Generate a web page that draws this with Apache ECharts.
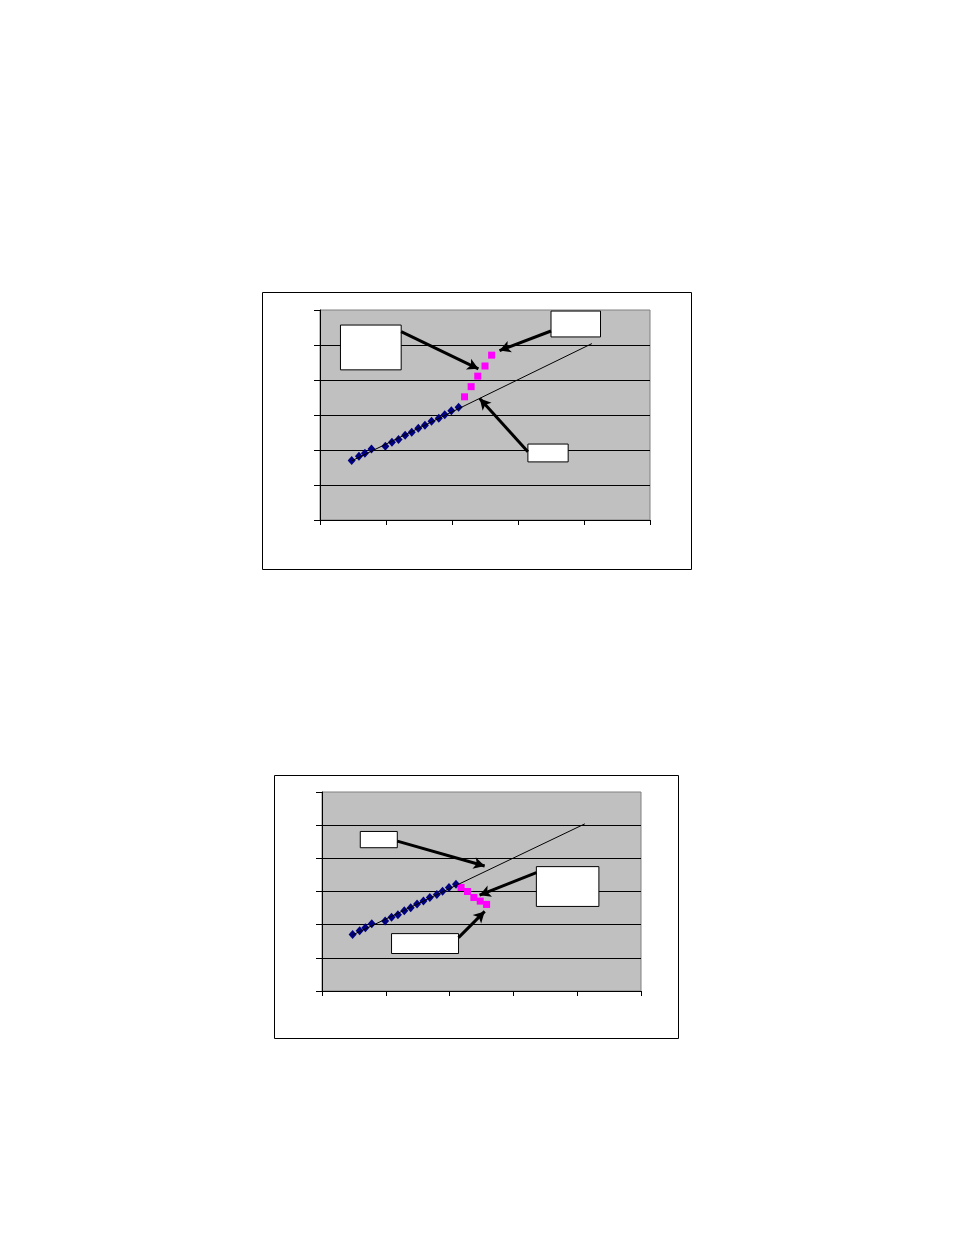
<!DOCTYPE html>
<html>
<head>
<meta charset="utf-8">
<style>
  html, body { margin: 0; padding: 0; background: #fff; }
  #chart { width: 954px; height: 1235px; }
</style>
<script src="https://cdn.jsdelivr.net/npm/echarts@6/dist/echarts.min.js"></script>
</head>
<body>
<div id="chart"></div>
<script>
// Measured points (same run of blue points in both panels)
const blueX = [4.8, 5.9, 6.8, 7.8, 9.9, 10.9, 11.9, 12.9, 13.9, 14.9, 15.9, 16.9, 18.0, 18.9, 19.9, 21.0];
const blueY = [17.0, 18.2, 19.1, 20.3, 21.1, 22.2, 23.0, 24.2, 25.1, 26.2, 27.1, 28.2, 29.1, 30.1, 31.2, 32.2];

// Top panel: pink points bend upward
const pinkUpX = [21.9, 22.9, 23.9, 25.0, 26.0];
const pinkUpY = [35.2, 38.1, 41.1, 44.0, 47.1];

// Bottom panel: pink points bend downward
const pinkDownX = [21.8, 22.8, 23.8, 24.8, 25.8];
const pinkDownY = [31.2, 30.0, 28.2, 27.1, 26.1];

// Extended straight trend line
const trendX = [4.8, 41.2];
const trendY = [16.9, 50.4];

// Axis ranges
const xMin = 0, xMax = 50, xStep = 10;
const yMin = 0, yMax = 60, yStep = 10;

// Empty callout boxes [x1, y1, x2, y2] and arrows [fromX, fromY, toX, toY], in data units
const boxesTop = [[3.1, 42.9, 12.3, 55.7], [35.0, 52.3, 42.5, 59.7], [31.5, 16.6, 37.6, 21.7]];
const arrowsTop = [[12.3, 53.8, 24.0, 43.2], [35.0, 54.0, 27.2, 48.4], [31.5, 19.5, 24.2, 34.7]];
const boxesBottom = [[6.0, 43.2, 11.8, 48.1], [33.6, 25.5, 43.4, 37.5], [10.9, 11.3, 21.4, 17.3]];
const arrowsBottom = [[11.8, 45.2, 25.5, 37.7], [33.6, 35.7, 24.7, 28.9], [21.4, 16.1, 25.5, 24.0]];

const zip = (xs, ys) => xs.map((x, i) => [x, ys[i]]);

function makeAxes(idx) {
    const xAxis = {
        type: 'value', gridIndex: idx, min: xMin, max: xMax, interval: xStep,
        axisLine: {show: true, lineStyle: {color: '#000', width: 1}},
        axisTick: {show: true, length: 5, lineStyle: {color: '#000'}},
        axisLabel: {show: false},
        splitLine: {show: false}
    };
    const yAxis = {
        type: 'value', gridIndex: idx, min: yMin, max: yMax, interval: yStep,
        axisLine: {show: true, lineStyle: {color: '#000', width: 1}},
        axisTick: {show: true, length: 6, lineStyle: {color: '#000'}},
        axisLabel: {show: false},
        splitLine: {show: true, showMaxLine: false, lineStyle: {color: '#000', width: 1}}
    };
    return [xAxis, yAxis];
}

function makeSeries(idx, pinkX, pinkY, boxes, arrows) {
    return [
        {
            type: 'scatter', xAxisIndex: idx, yAxisIndex: idx,
            data: zip(blueX, blueY),
            symbol: 'diamond', symbolSize: [8, 9],
            itemStyle: {color: '#000080', opacity: 1},
            z: 3
        },
        {
            type: 'scatter', xAxisIndex: idx, yAxisIndex: idx,
            data: zip(pinkX, pinkY),
            symbol: 'rect', symbolSize: 7,
            itemStyle: {color: '#FF00FF', opacity: 1},
            z: 3
        },
        {
            type: 'line', xAxisIndex: idx, yAxisIndex: idx,
            data: zip(trendX, trendY),
            showSymbol: false, symbol: 'none',
            lineStyle: {color: '#000', width: 1},
            z: 4,
            markArea: {
                silent: true,
                itemStyle: {color: '#fff', borderColor: '#000', borderWidth: 1, opacity: 1},
                data: boxes.map(b => [{coord: [b[0], b[3]]}, {coord: [b[2], b[1]]}])
            },
            markLine: {
                silent: true,
                symbol: ['none', 'arrow'],
                symbolSize: [9, 11],
                label: {show: false},
                lineStyle: {color: '#000', width: 3, type: 'solid'},
                data: arrows.map(a => [{coord: [a[0], a[1]]}, {coord: [a[2], a[3]]}])
            }
        }
    ];
}

const chart = echarts.init(document.getElementById('chart'), null, {renderer: 'canvas'});
const [x0, y0] = makeAxes(0);
const [x1, y1] = makeAxes(1);

chart.setOption({
    animation: false,
    backgroundColor: '#fff',
    graphic: [
        {type: 'rect', shape: {x: 262.5, y: 292.5, width: 429, height: 277}, style: {fill: 'none', stroke: '#000', lineWidth: 1}},
        {type: 'rect', shape: {x: 274.5, y: 775.5, width: 404, height: 263}, style: {fill: 'none', stroke: '#000', lineWidth: 1}}
    ],
    grid: [
        {left: 320, top: 310, width: 330, height: 210, show: true, backgroundColor: '#C0C0C0', borderColor: '#808080', borderWidth: 1},
        {left: 322, top: 792, width: 319, height: 199, show: true, backgroundColor: '#C0C0C0', borderColor: '#808080', borderWidth: 1}
    ],
    xAxis: [x0, x1],
    yAxis: [y0, y1],
    series: [
        ...makeSeries(0, pinkUpX, pinkUpY, boxesTop, arrowsTop),
        ...makeSeries(1, pinkDownX, pinkDownY, boxesBottom, arrowsBottom)
    ]
});
</script>
</body>
</html>
